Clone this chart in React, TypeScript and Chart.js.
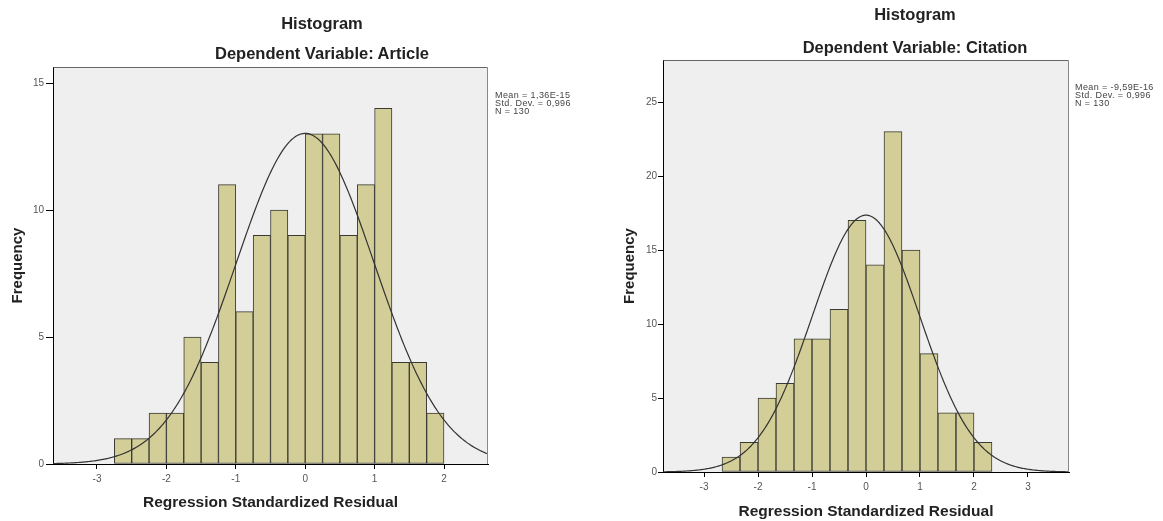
import React, { useEffect, useRef } from "react";
import { Chart, registerables } from "chart.js";

Chart.register(...registerables);

const FONT = "'Liberation Sans', Arial, Helvetica, sans-serif";

// ---------- Left chart: Dependent Variable: Article ----------
const articleBinStarts = [
  -2.75, -2.5, -2.25, -2.0, -1.75, -1.5, -1.25, -1.0, -0.75, -0.5,
  -0.25, 0.0, 0.25, 0.5, 0.75, 1.0, 1.25, 1.5, 1.75,
];
const articleCounts = [1, 1, 2, 2, 5, 4, 11, 6, 9, 10, 9, 13, 13, 9, 11, 14, 4, 4, 2];
const articleBinWidth = 0.25;
const articleMean = 1.36e-15;
const articleSd = 0.996;
const articleN = 130;
const articleXTicks = [-3, -2, -1, 0, 1, 2];
const articleYTicks = [0, 5, 10, 15];
const articleXRange = [-3.634, 2.634];
const articleYMax = 15.63;
const articleStats = ["Mean = 1,36E-15", "Std. Dev. = 0,996", "N = 130"];

// ---------- Right chart: Dependent Variable: Citation ----------
const citationBinStarts = [
  -2.667, -2.333, -2.0, -1.667, -1.333, -1.0, -0.667, -0.333, 0.0, 0.333,
  0.667, 1.0, 1.333, 1.667, 2.0,
];
const citationCounts = [1, 2, 5, 6, 9, 9, 11, 17, 14, 23, 15, 8, 4, 4, 2];
const citationBinWidth = 0.3333;
const citationMean = -9.59e-16;
const citationSd = 0.996;
const citationN = 130;
const citationXTicks = [-3, -2, -1, 0, 1, 2, 3];
const citationYTicks = [0, 5, 10, 15, 20, 25];
const citationXRange = [-3.76, 3.76];
const citationYMax = 27.84;
const citationStats = ["Mean = -9,59E-16", "Std. Dev. = 0,996", "N = 130"];

type HistCfg = {
  binStarts: number[];
  counts: number[];
  binWidth: number;
  mean: number;
  sd: number;
  n: number;
  xTicks: number[];
  yTicks: number[];
  xRange: number[];
  yMax: number;
  padding: { left: number; right: number; top: number; bottom: number };
  yAxisWidth: number;
  xAxisHeight: number;
  yTickLength: number;
  yTickPadding: number;
  yTitlePad: number;
  xTitlePad: number;
};

function normalCurve(c: HistCfg) {
  const pts: { x: number; y: number }[] = [];
  const peak = (c.n * c.binWidth) / (c.sd * Math.sqrt(2 * Math.PI));
  const step = 0.02;
  for (let x = c.xRange[0]; x <= c.xRange[1] + 1e-9; x += step) {
    const z = (x - c.mean) / c.sd;
    pts.push({ x, y: peak * Math.exp(-0.5 * z * z) });
  }
  return pts;
}

const framePlugin = {
  id: "spssFrame",
  beforeDraw(chart: any) {
    const { ctx, chartArea } = chart;
    const { left, top, right, bottom } = chartArea;
    ctx.save();
    ctx.fillStyle = "#efefef";
    ctx.fillRect(left, top, right - left, bottom - top);
    ctx.restore();
  },
  afterDraw(chart: any) {
    const { ctx, chartArea } = chart;
    const { left, top, right, bottom } = chartArea;
    ctx.save();
    ctx.lineWidth = 1;
    ctx.strokeStyle = "#666";
    ctx.beginPath();
    ctx.moveTo(Math.round(left) + 0.5, Math.round(top) + 0.5);
    ctx.lineTo(Math.round(right) - 0.5, Math.round(top) + 0.5);
    ctx.stroke();
    ctx.strokeStyle = "#888";
    ctx.beginPath();
    ctx.moveTo(Math.round(right) - 0.5, Math.round(top) + 0.5);
    ctx.lineTo(Math.round(right) - 0.5, Math.round(bottom));
    ctx.stroke();
    ctx.restore();
  },
};

function buildConfig(c: HistCfg): any {
  const bars = c.counts.map((v, i) => ({ x: c.binStarts[i] + c.binWidth / 2, y: v }));
  return {
    type: "bar",
    data: {
      datasets: [
        {
          type: "line",
          data: normalCurve(c),
          borderColor: "#333",
          borderWidth: 1.2,
          pointRadius: 0,
          fill: false,
          tension: 0,
          order: 0,
        },
        {
          type: "bar",
          data: bars,
          backgroundColor: "#d3ce97",
          borderColor: "#3a3a34",
          borderWidth: 1,
          borderSkipped: false,
          barPercentage: 1,
          categoryPercentage: 1,
          order: 1,
        },
      ],
    },
    options: {
      responsive: false,
      animation: false,
      devicePixelRatio: 1,
      events: [],
      layout: { padding: c.padding },
      plugins: {
        legend: { display: false },
        tooltip: { enabled: false },
        title: { display: false },
      },
      scales: {
        x: {
          type: "linear",
          min: c.xRange[0],
          max: c.xRange[1],
          offset: false,
          grid: {
            display: true,
            drawOnChartArea: false,
            drawTicks: true,
            tickLength: 5,
            color: "#000",
            offset: false,
          },
          border: { display: true, color: "#000", width: 1 },
          ticks: {
            font: { family: FONT, size: 10 },
            color: "#555",
            padding: 4,
            autoSkip: false,
            maxRotation: 0,
          },
          afterBuildTicks: (s: any) => {
            s.ticks = c.xTicks.map((v) => ({ value: v }));
          },
          afterFit: (s: any) => {
            s.height = c.xAxisHeight;
          },
          title: {
            display: true,
            text: "Regression Standardized Residual",
            font: { family: FONT, size: 15.5, weight: "bold" },
            color: "#222",
            padding: { top: 0, bottom: c.xTitlePad },
          },
        },
        y: {
          type: "linear",
          min: 0,
          max: c.yMax,
          grid: {
            display: true,
            drawOnChartArea: false,
            drawTicks: true,
            tickLength: c.yTickLength,
            color: "#000",
          },
          border: { display: true, color: "#000", width: 1 },
          ticks: {
            font: { family: FONT, size: 10 },
            color: "#555",
            padding: c.yTickPadding,
            autoSkip: false,
          },
          afterBuildTicks: (s: any) => {
            s.ticks = c.yTicks.map((v) => ({ value: v }));
          },
          afterFit: (s: any) => {
            s.width = c.yAxisWidth;
          },
          title: {
            display: true,
            text: "Frequency",
            font: { family: FONT, size: 15, weight: "bold" },
            color: "#222",
            padding: { top: c.yTitlePad, bottom: 0 },
          },
        },
      },
    },
    plugins: [framePlugin],
  };
}

const leftCfg: HistCfg = {
  binStarts: articleBinStarts,
  counts: articleCounts,
  binWidth: articleBinWidth,
  mean: articleMean,
  sd: articleSd,
  n: articleN,
  xTicks: articleXTicks,
  yTicks: articleYTicks,
  xRange: articleXRange,
  yMax: articleYMax,
  padding: { left: 0, right: 112, top: 67, bottom: 7 },
  yAxisWidth: 53,
  xAxisHeight: 50,
  yTickLength: 7,
  yTickPadding: 2,
  yTitlePad: 9,
  xTitlePad: 2,
};

const rightCfg: HistCfg = {
  binStarts: citationBinStarts,
  counts: citationCounts,
  binWidth: citationBinWidth,
  mean: citationMean,
  sd: citationSd,
  n: citationN,
  xTicks: citationXTicks,
  yTicks: citationYTicks,
  xRange: citationXRange,
  yMax: citationYMax,
  padding: { left: 0, right: 94, top: 60, bottom: 0 },
  yAxisWidth: 63,
  xAxisHeight: 49,
  yTickLength: 5,
  yTickPadding: 1,
  yTitlePad: 21,
  xTitlePad: 0,
};

function HistChart({ cfg, left, width }: { cfg: HistCfg; left: number; width: number }) {
  const ref = useRef<HTMLCanvasElement>(null);
  useEffect(() => {
    const chart = new Chart(ref.current as HTMLCanvasElement, buildConfig(cfg));
    return () => chart.destroy();
  }, []);
  return (
    <canvas
      ref={ref}
      width={width}
      height={521}
      style={{ position: "absolute", left, top: 0, width, height: 521 }}
    />
  );
}

const titleStyle = (x: number, y: number): React.CSSProperties => ({
  position: "absolute",
  left: x,
  top: y,
  transform: "translate(-50%, -50%)",
  fontFamily: FONT,
  fontWeight: "bold",
  fontSize: 16.5,
  lineHeight: "18px",
  color: "#222",
  whiteSpace: "nowrap",
});

const statsStyle = (x: number, y: number): React.CSSProperties => ({
  position: "absolute",
  left: x,
  top: y,
  fontFamily: FONT,
  fontSize: 9,
  lineHeight: "8px",
  color: "#444",
  whiteSpace: "nowrap",
  letterSpacing: "0.4px",
});

export default function App() {
  return (
    <div
      style={{
        position: "fixed",
        left: 0,
        top: 0,
        width: 1163,
        height: 521,
        background: "#fff",
        overflow: "hidden",
      }}
    >
      <HistChart cfg={leftCfg} left={0} width={600} />
      <HistChart cfg={rightCfg} left={600} width={563} />

      <div style={titleStyle(322, 23)}>Histogram</div>
      <div style={titleStyle(322, 53)}>Dependent Variable: Article</div>
      <div style={titleStyle(915, 14)}>Histogram</div>
      <div style={titleStyle(915, 47)}>Dependent Variable: Citation</div>

      <div style={statsStyle(495, 91)}>
        {articleStats.map((s) => (
          <div key={s}>{s}</div>
        ))}
      </div>
      <div style={statsStyle(1075, 83)}>
        {citationStats.map((s) => (
          <div key={s}>{s}</div>
        ))}
      </div>
    </div>
  );
}
